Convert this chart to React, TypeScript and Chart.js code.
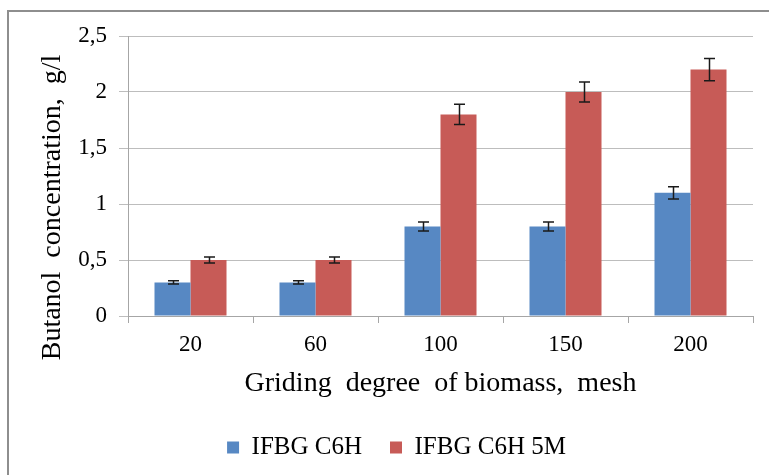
import React, { useEffect, useRef } from "react";
import { Chart, registerables } from "chart.js";

Chart.register(...registerables);

const categories = ["20", "60", "100", "150", "200"];
const seriesNames = ["IFBG C6H", "IFBG C6H 5M"];
const valuesC6H = [0.3, 0.3, 0.8, 0.8, 1.1];
const valuesC6H5M = [0.5, 0.5, 1.8, 2.0, 2.2];
const errorsC6H = [0.015, 0.015, 0.04, 0.04, 0.055];
const errorsC6H5M = [0.027, 0.027, 0.09, 0.09, 0.1];
const yTicks = [0, 0.5, 1, 1.5, 2, 2.5];

const FONT = "'Liberation Serif', 'Times New Roman', serif";
const NBSP = "\u00A0";

const borderPlugin = {
  id: "outerBorder",
  beforeDraw(chart: any) {
    const ctx = chart.ctx;
    ctx.save();
    ctx.fillStyle = "#ffffff";
    ctx.fillRect(0, 0, chart.width, chart.height);
    ctx.fillStyle = "#8e8e8e";
    ctx.fillRect(7, 10, 2, chart.height);
    ctx.fillRect(7, 10, chart.width, 2);
    ctx.restore();
  },
};

const legendShiftPlugin = {
  id: "legendShift",
  afterLayout(chart: any) {
    if (chart.legend) {
      chart.legend.left += 20;
      chart.legend.right += 20;
    }
  },
};

const errorBarPlugin = {
  id: "errorBars",
  afterDatasetsDraw(chart: any) {
    const ctx = chart.ctx;
    const yScale = chart.scales.y;
    ctx.save();
    ctx.strokeStyle = "#1a1a1a";
    ctx.lineWidth = 1.5;
    chart.data.datasets.forEach((ds: any, di: number) => {
      const meta = chart.getDatasetMeta(di);
      const errs: number[] = ds.errors || [];
      meta.data.forEach((bar: any, i: number) => {
        const v = ds.data[i];
        const e = errs[i] || 0;
        const x = Math.round(bar.x) + 0.5;
        const yTop = yScale.getPixelForValue(v + e);
        const yBot = yScale.getPixelForValue(v - e);
        const half = 5.5;
        ctx.beginPath();
        ctx.moveTo(x, yTop);
        ctx.lineTo(x, yBot);
        ctx.moveTo(x - half, yTop);
        ctx.lineTo(x + half, yTop);
        ctx.moveTo(x - half, yBot);
        ctx.lineTo(x + half, yBot);
        ctx.stroke();
      });
    });
    ctx.restore();
  },
};

export default function App() {
  const ref = useRef<HTMLCanvasElement | null>(null);

  useEffect(() => {
    if (!ref.current) return;
    const chart = new Chart(ref.current, {
      type: "bar",
      data: {
        labels: categories,
        datasets: [
          {
            label: seriesNames[0],
            data: valuesC6H,
            errors: errorsC6H,
            backgroundColor: "#5788C3",
            borderWidth: 0,
          } as any,
          {
            label: seriesNames[1],
            data: valuesC6H5M,
            errors: errorsC6H5M,
            backgroundColor: "#C75B57",
            borderWidth: 0,
          } as any,
        ],
      },
      options: {
        responsive: false,
        animation: false,
        devicePixelRatio: 1,
        datasets: {
          bar: { categoryPercentage: 0.576, barPercentage: 1 },
        },
        layout: { padding: { left: 0, right: 16, top: 36, bottom: 5 } },
        plugins: {
          legend: {
            position: "bottom",
            labels: {
              font: { family: FONT, size: 25 },
              color: "#000",
              boxWidth: 12,
              boxHeight: 12,
              padding: 28,
            },
          },
          tooltip: { enabled: false },
        },
        scales: {
          x: {
            afterFit: (scale: any) => {
              scale.height = 91;
            },
            grid: {
              offset: true,
              drawOnChartArea: false,
              drawTicks: true,
              tickLength: 7,
              color: "#a6a6a6",
            },
            border: { color: "#a6a6a6", width: 1 },
            ticks: {
              font: { family: FONT, size: 23 },
              color: "#000",
              padding: 8,
            },
            title: {
              display: true,
              text: "Griding  degree  of biomass,  mesh",
              font: { family: FONT, size: 28 },
              color: "#000",
              padding: { top: 0, bottom: 7 },
            },
          },
          y: {
            min: 0,
            max: 2.5,
            afterFit: (scale: any) => {
              scale.width = 128;
            },
            afterBuildTicks: (scale: any) => {
              scale.ticks = yTicks.map((v) => ({ value: v }));
            },
            grid: {
              color: "#bdbdbd",
              tickLength: 9,
              drawTicks: true,
            },
            border: { color: "#a6a6a6", width: 1 },
            ticks: {
              font: { family: FONT, size: 23 },
              color: "#000",
              padding: 12,
              callback: (v: any) => String(v).replace(".", ","),
            },
            title: {
              display: true,
              text: "Butanol  concentration,  g/l" + NBSP.repeat(9),
              font: { family: FONT, size: 28 },
              color: "#000",
              padding: { top: 36, bottom: 0 },
            },
          },
        },
      },
      plugins: [borderPlugin, errorBarPlugin, legendShiftPlugin],
    } as any);
    return () => chart.destroy();
  }, []);

  return (
    <div style={{ position: "fixed", left: 0, top: 0, width: 769, height: 475 }}>
      <canvas ref={ref} width={769} height={475} style={{ width: 769, height: 475, display: "block" }} />
    </div>
  );
}
